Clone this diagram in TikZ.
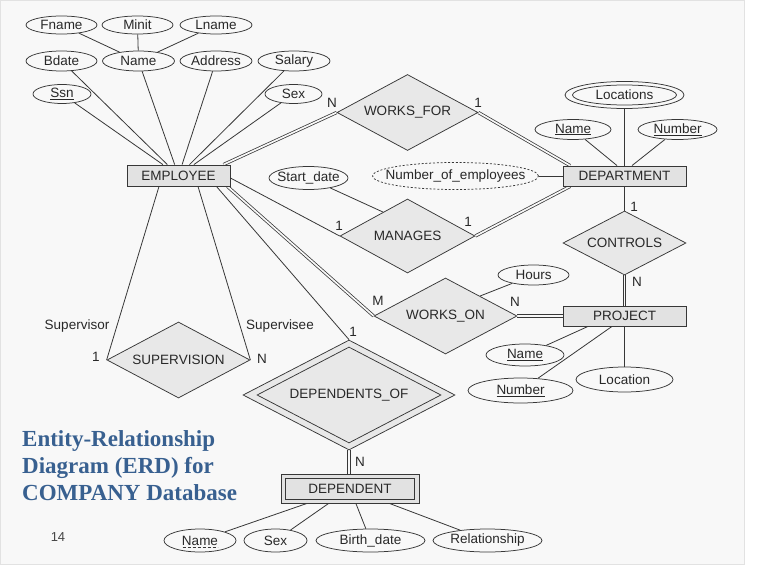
\documentclass[tikz,border=0pt]{standalone}
\usepackage{fontspec}
\setmainfont{Liberation Sans}
\newfontfamily\titlefont{Liberation Serif}
\usetikzlibrary{shapes.geometric,calc}
\definecolor{panelbg}{RGB}{248,248,248}
\definecolor{panelline}{RGB}{226,226,226}
\definecolor{linec}{RGB}{55,55,55}
\definecolor{txt}{RGB}{40,40,40}
\definecolor{diafill}{RGB}{232,232,232}
\definecolor{rectfill}{RGB}{226,226,226}
\definecolor{titleblue}{RGB}{56,96,144}
\definecolor{pgnum}{RGB}{70,70,70}
\newcommand{\zbox}[1]{\makebox[0pt]{#1}}
\newcommand{\dfont}{\fontsize{13.5}{16}\selectfont}
\pgfdeclarelayer{panellayer}
\pgfdeclarelayer{edgelayer}
\pgfsetlayers{panellayer,edgelayer,main}
\begin{document}
\begin{tikzpicture}[x=1pt,y=-1pt,
  attr/.style={ellipse, draw=linec, fill=panelbg, line width=0.75pt, inner sep=0pt, font=\dfont, text=txt},
  ent/.style={rectangle, draw=linec, fill=rectfill, line width=0.85pt, inner sep=0pt, font=\dfont, text=txt},
  rel/.style={diamond, draw=linec, fill=diafill, line width=0.75pt, inner sep=0pt, font=\dfont, text=txt},
  conn/.style={draw=linec, line width=0.8pt},
  dbl/.style={draw=linec, line width=0.75pt, double=panelbg, double distance=1.7pt},
  lbl/.style={font=\dfont, text=txt, inner sep=0pt},
  titlest/.style={font=\titlefont\bfseries\fontsize{23}{27}\selectfont, text=titleblue, inner sep=0pt, anchor=base west}]
\useasboundingbox (0,0) rectangle (757,580);
\begin{pgfonlayer}{panellayer}
\fill[white] (0,0) rectangle (757,580);
\path[fill=panelbg, draw=panelline, line width=0.8pt] (0,0) rectangle (744,564);
\end{pgfonlayer}

% EMPLOYEE attributes
\node[attr, minimum width=71pt, minimum height=18pt] (fname) at (61.5,25) {\zbox{Fname}};
\node[attr, minimum width=71pt, minimum height=18pt] (minit) at (137.5,25) {\zbox{Minit}};
\node[attr, minimum width=72pt, minimum height=18pt] (lname) at (216,25) {\zbox{Lname}};
\node[attr, minimum width=71pt, minimum height=20pt] (bdate) at (61.5,61) {\zbox{Bdate}};
\node[attr, minimum width=72pt, minimum height=20pt] (ename) at (138.5,61) {\zbox{Name}};
\node[attr, minimum width=72pt, minimum height=20pt] (address) at (216,61) {\zbox{Address}};
\node[attr, minimum width=72pt, minimum height=20pt] (salary) at (294,61) {\zbox{Salary}};
\node[attr, minimum width=58pt, minimum height=19pt] (ssn) at (62,94) {\zbox{\underline{Ssn}}};
\node[attr, minimum width=57pt, minimum height=19pt] (esex) at (293.5,94) {\zbox{Sex}};
\node[ent, minimum width=103pt, minimum height=21pt] (emp) at (178.5,175.5) {\zbox{EMPLOYEE}};

% WORKS_FOR and DEPARTMENT
\node[rel, minimum width=141pt, minimum height=76pt] (wf) at (407.5,112.5) {\zbox{WORKS\_FOR}};
\node[attr, minimum width=119pt, minimum height=27pt] (loc) at (624.5,95) {};
\node[attr, minimum width=104pt, minimum height=20pt] (loci) at (624.5,95) {\zbox{Locations}};
\node[attr, minimum width=76pt, minimum height=20pt] (dname) at (573,129.5) {\zbox{\underline{Name}}};
\node[attr, minimum width=79pt, minimum height=20pt] (dnum) at (677.5,129.5) {\zbox{\underline{Number}}};
\node[ent, minimum width=123pt, minimum height=20pt] (dept) at (624.5,176) {\zbox{DEPARTMENT}};
\node[attr, dash pattern=on 2pt off 1.8pt, minimum width=166pt, minimum height=27pt] (noe) at (455.5,176) {\zbox{Number\_of\_employees}};
\node[attr, minimum width=79pt, minimum height=23pt] (sdate) at (308.5,178) {\zbox{Start\_date}};
\node[rel, minimum width=135pt, minimum height=74pt] (man) at (407.5,236) {\zbox{MANAGES}};
\node[rel, minimum width=123pt, minimum height=64pt] (con) at (624.5,243) {\zbox{CONTROLS}};

% PROJECT
\node[ent, minimum width=123pt, minimum height=20pt] (proj) at (624.5,316) {\zbox{PROJECT}};
\node[rel, minimum width=143pt, minimum height=76pt] (wo) at (445.5,316) {\zbox{WORKS\_ON}};
\node[attr, minimum width=71pt, minimum height=20pt] (hours) at (533.5,275) {\zbox{Hours}};
\node[attr, minimum width=78pt, minimum height=22pt] (pname) at (525,355) {\zbox{\underline{Name}}};
\node[attr, minimum width=105pt, minimum height=25pt] (pnum) at (520.5,390.5) {\zbox{\underline{Number}}};
\node[attr, minimum width=97pt, minimum height=25pt] (ploc) at (624.5,379.5) {\zbox{Location}};

% SUPERVISION, DEPENDENTS_OF, DEPENDENT
\node[rel, minimum width=143pt, minimum height=76pt] (sup) at (178.5,360) {\zbox{SUPERVISION}};
\node[rel, minimum width=212pt, minimum height=110pt] (depof) at (349,395) {};
\node[rel, minimum width=184pt, minimum height=96pt] (depofi) at (349,395) {\zbox{DEPENDENTS\_OF}};
\node[ent, minimum width=138pt, minimum height=29pt] (dep) at (350,488.5) {};
\node[ent, minimum width=129pt, minimum height=21pt] (depi) at (350,488.5) {\zbox{DEPENDENT}};
\node[attr, minimum width=72pt, minimum height=23pt] (dname2) at (200,540.5) {\zbox{Name}};
\node[attr, minimum width=63pt, minimum height=23pt] (dsex) at (275.5,540.5) {\zbox{Sex}};
\node[attr, minimum width=109pt, minimum height=23pt] (bdate2) at (370.5,540.5) {\zbox{Birth\_date}};
\node[attr, minimum width=109pt, minimum height=23pt] (relship) at (487.5,540.5) {\zbox{Relationship}};
\draw[linec, line width=0.6pt, dash pattern=on 3pt off 2pt] ($(dname2.center)+(-17.5,7)$) -- ($(dname2.center)+(17.5,7)$);

% connectors
\begin{pgfonlayer}{edgelayer}
\draw[conn] (fname) -- (ename);
\draw[conn] (minit) -- (ename);
\draw[conn] (lname) -- (ename);
\draw[conn] (ssn) -- (emp);
\draw[conn] (bdate) -- (emp);
\draw[conn] (ename) -- (emp);
\draw[conn] (address) -- (emp);
\draw[conn] (salary) -- (emp);
\draw[conn] (esex) -- (emp);
\draw[dbl] ([xshift=-7pt]emp.north east) -- (wf.west);
\draw[dbl] (wf.east) -- ([xshift=7.5pt]dept.north west);
\draw[conn] (loc.south) -- (dept.north);
\draw[conn] (dname) -- ([xshift=-7.5pt]dept.north);
\draw[conn] (dnum) -- ([xshift=7.5pt]dept.north);
\draw[conn] (noe) -- (dept);
\draw[conn] ([yshift=-2.5pt]emp.east) -- (man.west);
\draw[conn] (sdate) -- ($(man.west)!0.64!(man.north)$);
\draw[dbl] (man.east) -- ([xshift=7.5pt]dept.south west);
\draw[conn] (dept.south) -- (con.north);
\draw[dbl] (con.south) -- (proj.north);
\draw[dbl] ([xshift=-3pt]emp.south east) -- (wo.west);
\draw[dbl] (wo.east) -- (proj.west);
\draw[conn] (hours) -- ($(wo.north)!0.48!(wo.east)$);
\draw[conn] (pname) -- ([xshift=-36.5pt]proj.south);
\draw[conn] (pnum) -- ([xshift=-12.5pt]proj.south);
\draw[conn] (ploc.north) -- (proj.south);
\draw[conn] ([xshift=-19.5pt]emp.south) -- (sup.west);
\draw[conn] ([xshift=19.5pt]emp.south) -- (sup.east);
\draw[conn] ([xshift=-14pt]emp.south east) -- (depof.north);
\draw[dbl] (depof.south) -- (depof.south |- dep.north);
\draw[conn] (dname2) -- (dep);
\draw[conn] (dsex) -- (dep);
\draw[conn] (bdate2) -- (dep);
\draw[conn] (relship) -- (dep);
\end{pgfonlayer}

% cardinality and role labels
\node[lbl] (wfN) at (332,103) {N};
\node[lbl] (wf1) at (478,103) {1};
\node[lbl] (man1a) at (339,226) {1};
\node[lbl] (man1b) at (468,222) {1};
\node[lbl] (con1) at (634,207) {1};
\node[lbl] (conN) at (637,282) {N};
\node[lbl] (woM) at (378,301) {M};
\node[lbl] (woN) at (515,302) {N};
\node[lbl] (suprole) at (77,326) {Supervisor};
\node[lbl] (seerole) at (280,326) {Supervisee};
\node[lbl] (sup1) at (96,357) {1};
\node[lbl] (supN) at (262,359) {N};
\node[lbl] (depof1) at (353,332) {1};
\node[lbl] (depofN) at (360,462) {N};

% title and page number
\node[titlest] (t1) at (22,446) {Entity-Relationship};
\node[titlest] (t2) at (22,473) {Diagram (ERD) for};
\node[titlest] (t3) at (22,500) {COMPANY Database};
\node[font=\fontsize{13}{15}\selectfont, text=pgnum, inner sep=0pt] (pg) at (58,537) {14};
\end{tikzpicture}
\end{document}
